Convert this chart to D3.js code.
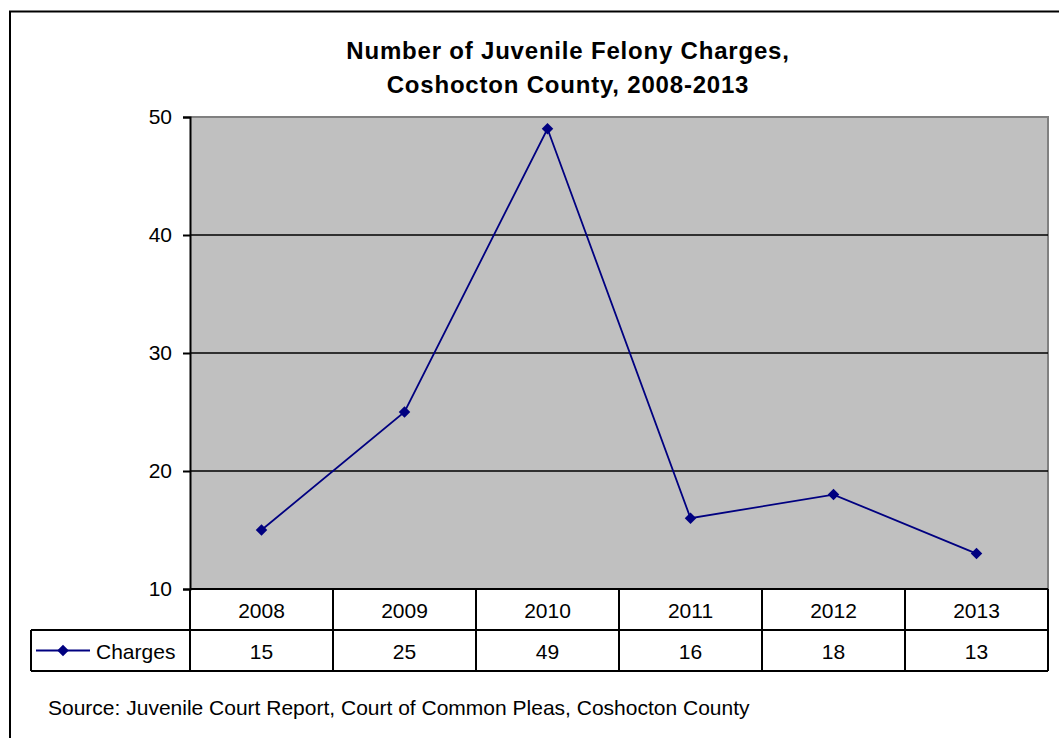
<!DOCTYPE html>
<html>
<head>
<meta charset="utf-8">
<script src="https://cdn.jsdelivr.net/npm/d3@7"></script>
<style>
html,body{margin:0;padding:0;background:#fff;}
svg{display:block;}
text{font-family:"Liberation Sans",Arial,sans-serif;fill:#000;}
</style>
</head>
<body>
<svg id="chart" width="1059" height="738"></svg>
<script>
const years = ["2008","2009","2010","2011","2012","2013"];
const charges = [15,25,49,16,18,13];
const yTicks = [10,20,30,40,50];
const seriesName = "Charges";
const titleLines = ["Number of Juvenile Felony Charges,","Coshocton County, 2008-2013"];
const sourceText = "Source: Juvenile Court Report, Court of Common Pleas, Coshocton County";

const svg = d3.select("#chart");
const plot = {left:190, right:1048, top:117, bottom:589};
const rowH = 41;
const legendLeft = 31;
const navy = "#000080";
const fs = 21;

// outer border
svg.append("rect").attr("x",10).attr("y",11.5).attr("width",1100).attr("height",800)
  .attr("fill","#fff").attr("stroke","#000").attr("stroke-width",2);

// title
svg.append("g").selectAll("text").data(titleLines).join("text")
  .attr("x",568).attr("y",(d,i)=>59+i*34)
  .attr("text-anchor","middle").attr("font-size",24).attr("font-weight","bold")
  .attr("letter-spacing",0.8)
  .text(d=>d);

const x = d3.scaleBand().domain(years).range([plot.left,plot.right]);
const y = d3.scaleLinear().domain([10,50]).range([plot.bottom,plot.top]);

// plot area
svg.append("rect").attr("x",plot.left).attr("y",plot.top)
  .attr("width",plot.right-plot.left).attr("height",plot.bottom-plot.top)
  .attr("fill","#C0C0C0");
svg.append("path")
  .attr("d",`M${plot.left},${plot.top}H${plot.right}V${plot.bottom}`)
  .attr("fill","none").attr("stroke","#808080").attr("stroke-width",2);

// gridlines
svg.append("g").selectAll("line").data(yTicks.filter(t=>t>10 && t<50)).join("line")
  .attr("x1",plot.left).attr("x2",plot.right)
  .attr("y1",d=>y(d)).attr("y2",d=>y(d))
  .attr("stroke","#000").attr("stroke-width",1.3);

// y axis
const yAxis = d3.axisLeft(y).tickValues(yTicks).tickSize(7).tickPadding(11).tickFormat(d3.format("d"));
const gy = svg.append("g").attr("transform",`translate(${plot.left},0)`).call(yAxis);
gy.select(".domain").attr("stroke","#000").attr("stroke-width",2);
gy.selectAll(".tick line").attr("stroke","#000").attr("stroke-width",2);
gy.selectAll(".tick text").attr("font-size",fs).attr("font-family","Liberation Sans, Arial, sans-serif").attr("fill","#000");

// data table
const tbl = svg.append("g");
const rowTop1 = plot.bottom, rowTop2 = plot.bottom+rowH, rowBot = plot.bottom+2*rowH;
tbl.append("line").attr("x1",plot.left).attr("x2",plot.right).attr("y1",rowTop1).attr("y2",rowTop1)
  .attr("stroke","#000").attr("stroke-width",2);
tbl.append("line").attr("x1",legendLeft).attr("x2",plot.right).attr("y1",rowTop2).attr("y2",rowTop2)
  .attr("stroke","#000").attr("stroke-width",2);
tbl.append("line").attr("x1",legendLeft).attr("x2",plot.right).attr("y1",rowBot).attr("y2",rowBot)
  .attr("stroke","#000").attr("stroke-width",2);
tbl.append("line").attr("x1",legendLeft).attr("x2",legendLeft).attr("y1",rowTop2).attr("y2",rowBot)
  .attr("stroke","#000").attr("stroke-width",2);
const seps = years.map(d=>x(d)).concat([plot.right]);
tbl.selectAll("line.sep").data(seps).join("line").attr("class","sep")
  .attr("x1",d=>d).attr("x2",d=>d).attr("y1",rowTop1).attr("y2",rowBot)
  .attr("stroke","#000").attr("stroke-width",2);
tbl.selectAll("text.yr").data(years).join("text").attr("class","yr")
  .attr("x",d=>x(d)+x.bandwidth()/2).attr("y",rowTop1+rowH/2+8)
  .attr("text-anchor","middle").attr("font-size",fs).text(d=>d);
tbl.selectAll("text.val").data(charges).join("text").attr("class","val")
  .attr("x",(d,i)=>x(years[i])+x.bandwidth()/2).attr("y",rowTop2+rowH/2+8)
  .attr("text-anchor","middle").attr("font-size",fs).text(d=>d);
const ly = rowTop2+rowH/2;
tbl.append("line").attr("x1",36).attr("x2",90).attr("y1",ly).attr("y2",ly)
  .attr("stroke",navy).attr("stroke-width",2);
tbl.append("path").attr("d",d3.symbol(d3.symbolDiamond2,85)())
  .attr("transform",`translate(63,${ly})`).attr("fill",navy);
tbl.append("text").attr("x",96).attr("y",ly+8).attr("font-size",fs).text(seriesName);

// series line
const line = d3.line().x((d,i)=>x(years[i])+x.bandwidth()/2).y(d=>y(d));
svg.append("path").datum(charges).attr("d",line)
  .attr("fill","none").attr("stroke",navy).attr("stroke-width",1.8);
svg.append("g").selectAll("path").data(charges).join("path")
  .attr("d",d3.symbol(d3.symbolDiamond2,85)())
  .attr("transform",(d,i)=>`translate(${x(years[i])+x.bandwidth()/2},${y(d)})`)
  .attr("fill",navy);

// source
svg.append("text").attr("x",48).attr("y",715).attr("font-size",fs).text(sourceText);
</script>
</body>
</html>
